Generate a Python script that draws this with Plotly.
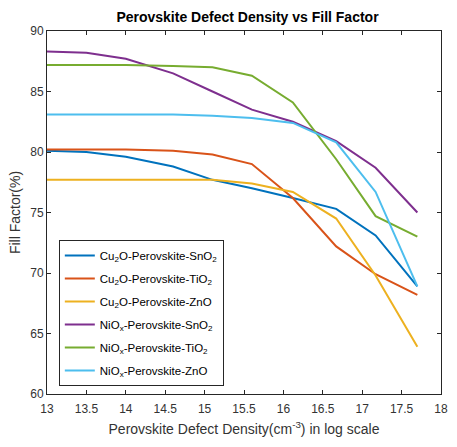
import plotly.graph_objects as go

x = [13, 13.5, 14, 14.6, 15.1, 15.6, 16.12, 16.67, 17.17, 17.7]

names = [
    "Cu<sub>2</sub>O-Perovskite-SnO<sub>2</sub>",
    "Cu<sub>2</sub>O-Perovskite-TiO<sub>2</sub>",
    "Cu<sub>2</sub>O-Perovskite-ZnO",
    "NiO<sub>x</sub>-Perovskite-SnO<sub>2</sub>",
    "NiO<sub>x</sub>-Perovskite-TiO<sub>2</sub>",
    "NiO<sub>x</sub>-Perovskite-ZnO",
]

cu2o_sno2 = [80.1, 80.0, 79.6, 78.8, 77.7, 77.0, 76.2, 75.3, 73.1, 68.9]
cu2o_tio2 = [80.2, 80.2, 80.2, 80.1, 79.8, 79.0, 76.2, 72.2, 69.9, 68.2]
cu2o_zno = [77.7, 77.7, 77.7, 77.7, 77.7, 77.4, 76.7, 74.5, 69.8, 63.9]
niox_sno2 = [88.3, 88.2, 87.7, 86.5, 85.0, 83.5, 82.5, 80.9, 78.7, 75.0]
niox_tio2 = [87.2, 87.2, 87.2, 87.1, 87.0, 86.3, 84.1, 79.4, 74.7, 73.0]
niox_zno = [83.1, 83.1, 83.1, 83.1, 83.0, 82.8, 82.4, 80.8, 76.7, 68.9]

series = [cu2o_sno2, cu2o_tio2, cu2o_zno, niox_sno2, niox_tio2, niox_zno]
colors = ["#0072BD", "#D95319", "#EDB120", "#7E2F8E", "#77AC30", "#4DBEEE"]

fig = go.Figure()
for i, (n, s, c) in enumerate(zip(names, series, colors)):
    fig.add_trace(go.Scatter(x=x, y=s, mode="lines", name=n, legendgroup=f"g{i}",
                             line=dict(color=c, width=2)))

axis_common = dict(
    showgrid=False, zeroline=False, showline=True, linecolor="#262626",
    linewidth=1, mirror="ticks", ticks="inside", ticklen=4,
    tickcolor="#262626", tickfont=dict(family="Liberation Sans, Arial", size=12, color="#333333"),
)

fig.update_layout(
    width=457, height=447,
    margin=dict(l=47, r=9, t=31, b=53),
    paper_bgcolor="white", plot_bgcolor="white",
    title=dict(text="<b>Perovskite Defect Density vs Fill Factor</b>",
               x=(47 + 448) / 2 / 457, xanchor="center", y=0.962, yanchor="middle",
               font=dict(family="Liberation Sans, Arial", size=14, color="black")),
    xaxis=dict(range=[13, 18], tickvals=[13, 13.5, 14, 14.5, 15, 15.5, 16, 16.5, 17, 17.5, 18],
               ticktext=["13", "13.5", "14", "14.5", "15", "15.5", "16", "16.5", "17", "17.5", "18"],
               ticklabelstandoff=4,
               title=dict(text="Perovskite Defect Density(cm<sup>-3</sup>) in log scale",
                          font=dict(family="Liberation Sans, Arial", size=14, color="#333333"),
                          standoff=8),
               **axis_common),
    yaxis=dict(range=[60, 90], tickvals=[60, 65, 70, 75, 80, 85, 90],
               title=dict(text="Fill Factor(%)",
                          font=dict(family="Liberation Sans, Arial", size=14, color="#333333"),
                          standoff=6),
               **axis_common),
    legend=dict(x=0.03, y=0.424, xanchor="left", yanchor="top",
                bgcolor="white", bordercolor="#262626", borderwidth=1,
                font=dict(family="Liberation Sans, Arial", size=11.5, color="black"),
                tracegroupgap=4, itemwidth=30),
    showlegend=True,
)

fig.write_html("out.html")
